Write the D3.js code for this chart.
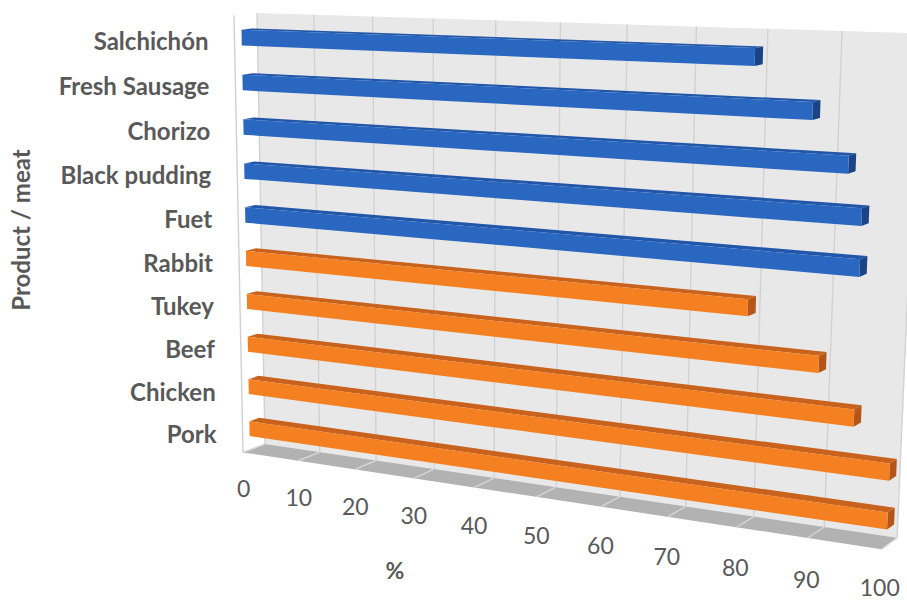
<!DOCTYPE html>
<html>
<head>
<meta charset="utf-8">
<script src="https://cdn.jsdelivr.net/npm/d3@7"></script>
<style>
  html, body { margin: 0; padding: 0; background: #fff; }
  svg { display: block; }
  text { font-family: Lato, "Open Sans", sans-serif; fill: #595959; }
</style>
</head>
<body>
<svg id="chart" width="907" height="601"></svg>
<script>
// Share of respondents (%) per product / meat
const categories = ["Salchichón", "Fresh Sausage", "Chorizo", "Black pudding", "Fuet",
                    "Rabbit", "Tukey", "Beef", "Chicken", "Pork"];
const groups     = ["product", "product", "product", "product", "product",
                    "meat", "meat", "meat", "meat", "meat"];
const values     = [80, 88, 93, 95, 95, 80, 90, 95, 100, 100];
const tickValues = [0, 10, 20, 30, 40, 50, 60, 70, 80, 90, 100];

const palette = {
  product: { front: "#2967C0", top: "#2156A8", side: "#1B4486" },
  meat:    { front: "#F58022", top: "#C8621C", side: "#B4561A" }
};

const W = 907, H = 601;
const svg = d3.select("#chart");

// World space: X = value (0..1), Y = height (0 floor .. 1 top), Z = depth (0 back wall .. 1 front)
const x = d3.scaleLinear().domain([0, 100]).range([0, 1]);
const y = d3.scaleBand().domain(categories).range([1, 0]).paddingInner(0.65).paddingOuter(0.33);

// Perspective camera described by the image of the origin and the vanishing points of the axes
const cam = {
  origin: [265, 444],
  vx: [-3400, -100], kx: -0.1471,
  vy: [457, 10788],  ky: -0.04,
  vz: [1870, -170],  kz: -0.0135
};
function project(X, Y, Z) {
  const w = 1 + cam.kx * X + cam.ky * Y + cam.kz * Z;
  const px = cam.origin[0] + cam.kx * X * cam.vx[0] + cam.ky * Y * cam.vy[0] + cam.kz * Z * cam.vz[0];
  const py = cam.origin[1] + cam.kx * X * cam.vx[1] + cam.ky * Y * cam.vy[1] + cam.kz * Z * cam.vz[1];
  return [px / w, py / w];
}
const poly = pts => "M" + pts.map(p => project(...p).join(",")).join("L") + "Z";
const seg = (a, b) => "M" + project(...a).join(",") + "L" + project(...b).join(",");

// Back wall
svg.append("path")
  .attr("d", poly([[0, 0, 0], [1, 0, 0], [1, 1, 0], [0, 1, 0]]))
  .attr("fill", "#E8E8E8");

// Floor
svg.append("path")
  .attr("d", poly([[0, 0, 0], [1, 0, 0], [1, 0, 1], [0, 0, 1]]))
  .attr("fill", "#B2B2B2");

// Gridlines on the wall and the floor
const grid = svg.append("g");
tickValues.forEach(t => {
  grid.append("path").attr("d", seg([x(t), 0, 0], [x(t), 1, 0]))
    .attr("stroke", "#D2D2D2").attr("stroke-width", 1.4).attr("fill", "none");
  grid.append("path").attr("d", seg([x(t), 0, 0], [x(t), 0, 1]))
    .attr("stroke", "#D6D6D6").attr("stroke-width", 1.4).attr("fill", "none");
});
// Side wall front edge
svg.append("path").attr("d", seg([0, 0, 1], [0, 1, 1]))
  .attr("stroke", "#D0D0D0").attr("stroke-width", 1.4).attr("fill", "none");

// Bars: front face, top face and end cap of each box
const zBack = 0.24, zFront = 0.69;
const bars = svg.append("g");
categories.forEach((c, i) => {
  const y0 = y(c), y1 = y(c) + y.bandwidth();
  const v = x(values[i]);
  const col = palette[groups[i]];
  const g = bars.append("g");
  g.append("path").attr("d", poly([[0, y1, zBack], [v, y1, zBack], [v, y1, zFront], [0, y1, zFront]]))
    .attr("fill", col.top);
  g.append("path").attr("d", poly([[v, y0, zBack], [v, y1, zBack], [v, y1, zFront], [v, y0, zFront]]))
    .attr("fill", col.side);
  g.append("path").attr("d", poly([[0, y0, zFront], [v, y0, zFront], [v, y1, zFront], [0, y1, zFront]]))
    .attr("fill", col.front);
});

// Category labels
svg.append("g").selectAll("text").data(categories).join("text")
  .attr("x", d => project(0, y(d) + y.bandwidth() / 2, 1)[0] - 26)
  .attr("y", d => project(0, y(d) + y.bandwidth() / 2, 1)[1] + 2)
  .attr("text-anchor", "end")
  .attr("dominant-baseline", "central")
  .attr("font-size", 24)
  .attr("font-weight", "bold")
  .text(d => d);

// Value tick labels along the front of the floor (kept inside the canvas)
const tickSize = 23;
svg.append("g").selectAll("text").data(tickValues).join("text")
  .attr("x", d => Math.min(project(x(d), -0.085, 1)[0], W - 24))
  .attr("y", d => Math.min(project(x(d), -0.085, 1)[1], H - tickSize * 0.62))
  .attr("text-anchor", "middle")
  .attr("dominant-baseline", "central")
  .attr("font-size", tickSize)
  .text(d => d);

// Axis titles
svg.append("text")
  .attr("transform", "translate(20,230) rotate(-90)")
  .attr("text-anchor", "middle")
  .attr("dominant-baseline", "central")
  .attr("font-size", 24)
  .attr("font-weight", "bold")
  .text("Product / meat");
svg.append("text")
  .attr("x", 395).attr("y", 570)
  .attr("text-anchor", "middle")
  .attr("dominant-baseline", "central")
  .attr("font-size", 23)
  .attr("font-weight", "bold")
  .text("%");
</script>
</body>
</html>
